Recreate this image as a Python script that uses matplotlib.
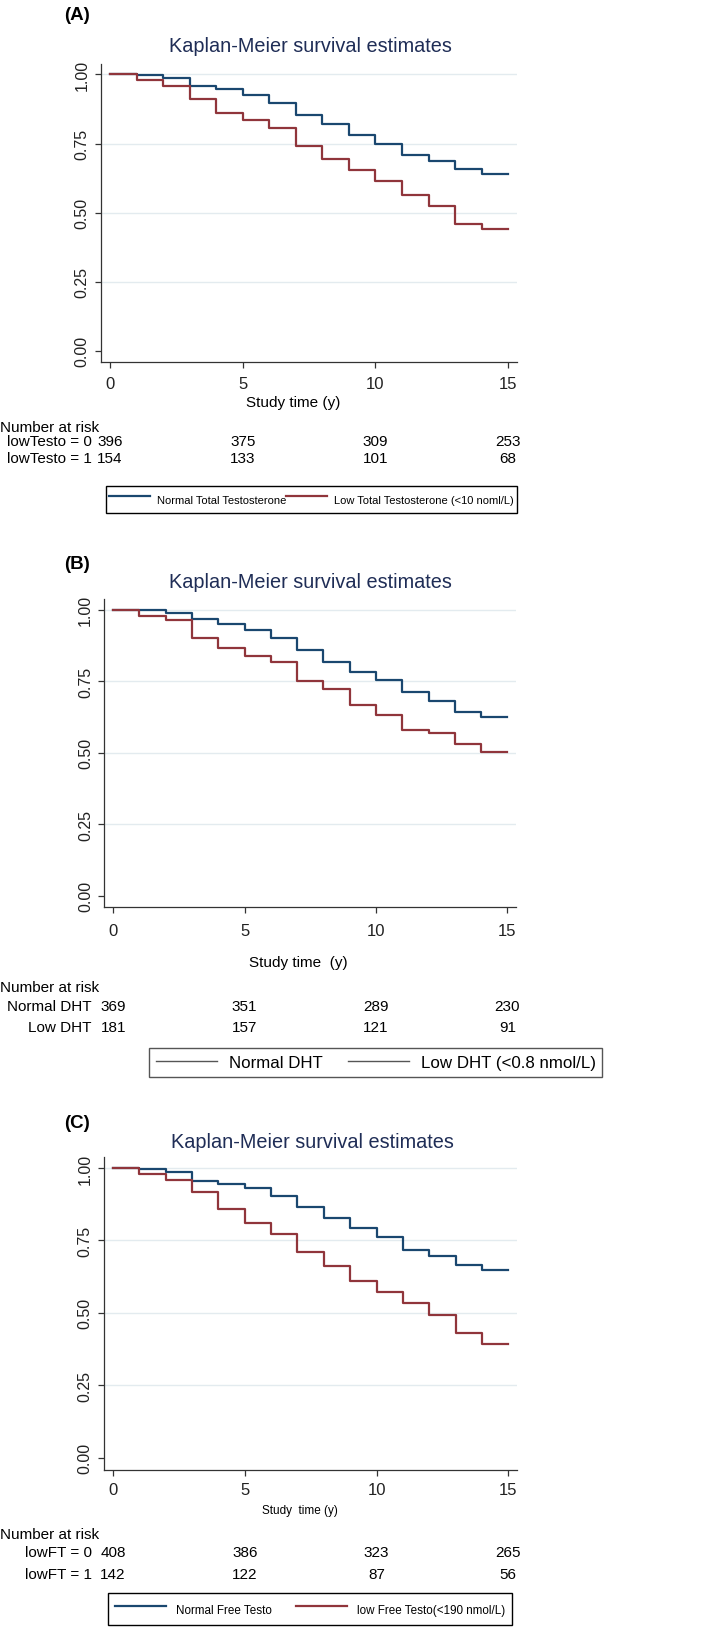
import matplotlib.pyplot as plt
from matplotlib import transforms
from matplotlib.lines import Line2D

plt.rcParams.update({
    'font.family': ['Liberation Sans', 'DejaVu Sans'],
    'axes.linewidth': 0.9,
    'axes.edgecolor': '#333333',
    'xtick.color': '#333333',
    'ytick.color': '#333333',
    'xtick.labelcolor': '#222222',
    'ytick.labelcolor': '#222222',
    'xtick.direction': 'out',
    'ytick.direction': 'out',
    'xtick.major.size': 4,
    'ytick.major.size': 4,
    'xtick.major.width': 0.9,
    'ytick.major.width': 0.9,
})

# ---- data ----
time_points = [0, 1, 2, 3, 4, 5, 6, 7, 8, 9, 10, 11, 12, 13, 14, 15]

surv_a_normal = [1.000, 0.997, 0.987, 0.959, 0.947, 0.924, 0.898, 0.855,
                 0.820, 0.780, 0.749, 0.710, 0.688, 0.658, 0.639, 0.639]
surv_a_low = [1.000, 0.981, 0.959, 0.910, 0.861, 0.836, 0.805, 0.741,
              0.693, 0.654, 0.616, 0.564, 0.525, 0.459, 0.441, 0.441]

surv_b_normal = [1.000, 1.000, 0.988, 0.967, 0.950, 0.928, 0.900, 0.861,
                 0.818, 0.783, 0.755, 0.713, 0.680, 0.641, 0.624, 0.624]
surv_b_low = [1.000, 0.978, 0.963, 0.900, 0.865, 0.837, 0.818, 0.751,
              0.723, 0.667, 0.631, 0.580, 0.568, 0.532, 0.502, 0.502]

surv_c_normal = [1.000, 0.997, 0.987, 0.956, 0.946, 0.932, 0.905, 0.864,
                 0.828, 0.792, 0.761, 0.716, 0.697, 0.666, 0.648, 0.648]
surv_c_low = [1.000, 0.980, 0.957, 0.917, 0.859, 0.809, 0.774, 0.711,
              0.663, 0.611, 0.571, 0.535, 0.493, 0.429, 0.394, 0.394]

risk_times = [0, 5, 10, 15]
risk_a_normal = [396, 375, 309, 253]
risk_a_low = [154, 133, 101, 68]
risk_b_normal = [369, 351, 289, 230]
risk_b_low = [181, 157, 121, 91]
risk_c_normal = [408, 386, 323, 265]
risk_c_low = [142, 122, 87, 56]

x_ticks = [0, 5, 10, 15]
y_ticks = [0.0, 0.25, 0.5, 0.75, 1.0]
y_tick_labels = ['0.00', '0.25', '0.50', '0.75', '1.00']

NAVY = '#1a476f'
MAROON = '#90353b'
TITLE_COL = '#1f2d56'
GRID_COL = '#e3ebef'
TITLE = 'Kaplan-Meier survival estimates'

W, H = 709, 1631
fig = plt.figure(figsize=(W / 100, H / 100), dpi=100)


def fx(x):
    return x / W


def fy(y):
    return 1 - y / H


def panel(box, normal, low, xpad):
    left, top, right, bottom = box
    ax = fig.add_axes([fx(left), fy(bottom), (right - left) / W, (bottom - top) / H])
    ax.step(time_points, normal, where='post', color=NAVY, lw=1.6)
    ax.step(time_points, low, where='post', color=MAROON, lw=1.6)
    ax.set_xlim(-0.35, 15.33)
    ax.set_ylim(-0.041, 1.038)
    ax.set_xticks(x_ticks)
    ax.set_xticklabels([str(t) for t in x_ticks], fontsize=12)
    ax.set_yticks(y_ticks)
    ax.set_yticklabels(y_tick_labels, rotation=90, va='center', ha='right', fontsize=11.5)
    ax.tick_params(axis='x', pad=xpad)
    ax.tick_params(axis='y', pad=4)
    ax.grid(axis='y', color=GRID_COL, lw=1.0)
    ax.get_ygridlines()[0].set_visible(False)
    ax.set_axisbelow(True)
    for s in ['top', 'right']:
        ax.spines[s].set_visible(False)
    return ax


def risk_table(ax, rows, label_ys, head_y, fs=11):
    trans = transforms.blended_transform_factory(ax.transData, fig.transFigure)
    fig.text(0.0, fy(head_y), 'Number at risk', ha='left', va='center', fontsize=fs)
    for (lab, vals), y in zip(rows, label_ys):
        fig.text(fx(92), fy(y), lab, ha='right', va='center', fontsize=fs)
        for t, n in zip(risk_times, vals):
            ax.text(t, fy(y), str(n), transform=trans, ha='center', va='center', fontsize=fs)


# ---------------- Panel A ----------------
ax_a = panel((100.7, 65, 517, 363), surv_a_normal, surv_a_low, 6)
fig.text(fx(77), fy(15), '(A)', ha='center', va='center', fontsize=13.5, fontweight='bold')
fig.text(fx(310), fy(47), TITLE, ha='center', va='center', fontsize=14.3, color=TITLE_COL)
fig.text(fx(293), fy(403), 'Study time (y)', ha='center', va='center', fontsize=11)
risk_table(ax_a, [('lowTesto = 0', risk_a_normal), ('lowTesto = 1', risk_a_low)],
           [442.5, 458.7], 428.3)
leg_a = fig.legend(handles=[Line2D([], [], color=NAVY, lw=1.6), Line2D([], [], color=MAROON, lw=1.6)],
                   labels=['Normal Total Testosterone', 'Low Total Testosterone (<10 noml/L)'],
                   loc='upper left', bbox_to_anchor=(fx(105.7), fy(487)), ncol=2,
                   fontsize=8, handlelength=3.7, handletextpad=0.6, columnspacing=0.0,
                   handleheight=2.4, borderpad=0.3, borderaxespad=0, fancybox=False,
                   framealpha=1, edgecolor='black')
leg_a.get_frame().set_linewidth(1.0)

# ---------------- Panel B ----------------
ax_b = panel((104, 600, 516, 908.3), surv_b_normal, surv_b_low, 7)
fig.text(fx(77), fy(565), '(B)', ha='center', va='center', fontsize=13.5, fontweight='bold')
fig.text(fx(310), fy(583), TITLE, ha='center', va='center', fontsize=14.3, color=TITLE_COL)
fig.text(fx(298), fy(963), 'Study time  (y)', ha='center', va='center', fontsize=11)
risk_table(ax_b, [('Normal DHT', risk_b_normal), ('Low DHT', risk_b_low)],
           [1006.7, 1028.3], 988.3)
leg_b = fig.legend(handles=[Line2D([], [], color='#555555', lw=1.0), Line2D([], [], color='#555555', lw=1.0)],
                   labels=['Normal DHT', 'Low DHT (<0.8 nmol/L)'],
                   loc='upper left', bbox_to_anchor=(fx(149), fy(1049)), ncol=2,
                   fontsize=12.2, handlelength=3.6, handletextpad=0.7, columnspacing=1.5,
                   borderpad=0.4, borderaxespad=0, fancybox=False, framealpha=1,
                   edgecolor='#555555')
leg_b.get_frame().set_linewidth(1.0)

# ---------------- Panel C ----------------
ax_c = panel((103.7, 1158, 517, 1470.7), surv_c_normal, surv_c_low, 5)
fig.text(fx(77), fy(1123), '(C)', ha='center', va='center', fontsize=13.5, fontweight='bold')
fig.text(fx(312), fy(1142), TITLE, ha='center', va='center', fontsize=14.3, color=TITLE_COL)
fig.text(fx(300), fy(1511), 'Study  time (y)', ha='center', va='center', fontsize=8.5)
risk_table(ax_c, [('lowFT = 0', risk_c_normal), ('lowFT = 1', risk_c_low)],
           [1553.3, 1575], 1535)
leg_c = fig.legend(handles=[Line2D([], [], color=NAVY, lw=1.6), Line2D([], [], color=MAROON, lw=1.6)],
                   labels=['Normal Free Testo', 'low Free Testo(<190 nmol/L)'],
                   loc='upper left', bbox_to_anchor=(fx(108), fy(1594)), ncol=2,
                   fontsize=8.4, handlelength=4.4, handletextpad=0.8, columnspacing=2.1,
                   handleheight=2.0, borderpad=0.6, borderaxespad=0, fancybox=False,
                   framealpha=1, edgecolor='black')
leg_c.get_frame().set_linewidth(1.0)

fig.savefig('out.png', dpi=100, facecolor='white')
